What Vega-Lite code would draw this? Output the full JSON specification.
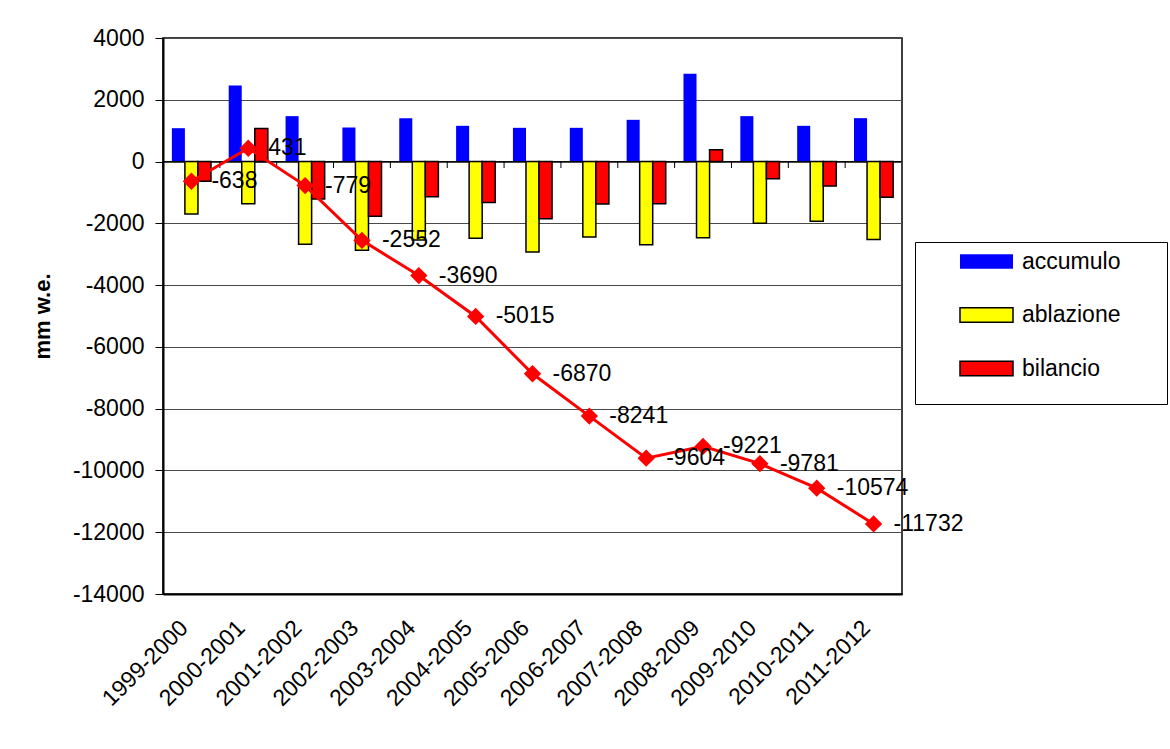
{
  "$schema": "https://vega.github.io/schema/vega-lite/v6.json",
  "autosize": {"type": "none"},
  "padding": {"left": 163, "top": 38, "right": 268, "bottom": 155},
  "width": 739,
  "height": 556,
  "background": "white",
  "config": {
    "font": "Liberation Sans",
    "view": {"stroke": "#000000", "strokeWidth": 1.5}
  },
  "datasets": {
    "bars": [
      {"season": "1999-2000", "series": "accumulo", "value": 1080},
      {"season": "1999-2000", "series": "ablazione", "value": -1700},
      {"season": "1999-2000", "series": "bilancio", "value": -638},
      {"season": "2000-2001", "series": "accumulo", "value": 2460},
      {"season": "2000-2001", "series": "ablazione", "value": -1370},
      {"season": "2000-2001", "series": "bilancio", "value": 1069},
      {"season": "2001-2002", "series": "accumulo", "value": 1470},
      {"season": "2001-2002", "series": "ablazione", "value": -2680},
      {"season": "2001-2002", "series": "bilancio", "value": -1210},
      {"season": "2002-2003", "series": "accumulo", "value": 1100},
      {"season": "2002-2003", "series": "ablazione", "value": -2870},
      {"season": "2002-2003", "series": "bilancio", "value": -1773},
      {"season": "2003-2004", "series": "accumulo", "value": 1405},
      {"season": "2003-2004", "series": "ablazione", "value": -2540},
      {"season": "2003-2004", "series": "bilancio", "value": -1138},
      {"season": "2004-2005", "series": "accumulo", "value": 1157},
      {"season": "2004-2005", "series": "ablazione", "value": -2484},
      {"season": "2004-2005", "series": "bilancio", "value": -1325},
      {"season": "2005-2006", "series": "accumulo", "value": 1092},
      {"season": "2005-2006", "series": "ablazione", "value": -2930},
      {"season": "2005-2006", "series": "bilancio", "value": -1855},
      {"season": "2006-2007", "series": "accumulo", "value": 1092},
      {"season": "2006-2007", "series": "ablazione", "value": -2440},
      {"season": "2006-2007", "series": "bilancio", "value": -1371},
      {"season": "2007-2008", "series": "accumulo", "value": 1351},
      {"season": "2007-2008", "series": "ablazione", "value": -2690},
      {"season": "2007-2008", "series": "bilancio", "value": -1363},
      {"season": "2008-2009", "series": "accumulo", "value": 2843},
      {"season": "2008-2009", "series": "ablazione", "value": -2470},
      {"season": "2008-2009", "series": "bilancio", "value": 383},
      {"season": "2009-2010", "series": "accumulo", "value": 1470},
      {"season": "2009-2010", "series": "ablazione", "value": -2000},
      {"season": "2009-2010", "series": "bilancio", "value": -560},
      {"season": "2010-2011", "series": "accumulo", "value": 1157},
      {"season": "2010-2011", "series": "ablazione", "value": -1935},
      {"season": "2010-2011", "series": "bilancio", "value": -793},
      {"season": "2011-2012", "series": "accumulo", "value": 1405},
      {"season": "2011-2012", "series": "ablazione", "value": -2520},
      {"season": "2011-2012", "series": "bilancio", "value": -1158}
    ],
    "cum": [
      {"season": "1999-2000", "cum": -638},
      {"season": "2000-2001", "cum": 431},
      {"season": "2001-2002", "cum": -779},
      {"season": "2002-2003", "cum": -2552},
      {"season": "2003-2004", "cum": -3690},
      {"season": "2004-2005", "cum": -5015},
      {"season": "2005-2006", "cum": -6870},
      {"season": "2006-2007", "cum": -8241},
      {"season": "2007-2008", "cum": -9604},
      {"season": "2008-2009", "cum": -9221},
      {"season": "2009-2010", "cum": -9781},
      {"season": "2010-2011", "cum": -10574},
      {"season": "2011-2012", "cum": -11732}
    ]
  },
  "layer": [
    {
      "data": {"name": "bars"},
      "mark": {"type": "bar", "strokeWidth": 1.5},
      "encoding": {
        "x": {
          "field": "season",
          "type": "nominal",
          "sort": null,
          "scale": {"paddingInner": 0, "paddingOuter": 0},
          "axis": {
            "title": null,
            "labelAngle": -45,
            "labelAlign": "right",
            "labelBaseline": "middle",
            "labelFontSize": 23,
            "labelColor": "#000000",
            "labelOffset": -7,
            "labelPadding": 30,
            "ticks": false,
            "tickSize": 0,
            "domainColor": "#000000",
            "domainWidth": 2,
            "grid": false
          }
        },
        "xOffset": {
          "field": "series",
          "type": "nominal",
          "sort": ["accumulo", "ablazione", "bilancio"],
          "scale": {"paddingInner": 0, "paddingOuter": 0.68}
        },
        "y": {
          "field": "value",
          "type": "quantitative",
          "scale": {"domain": [-14000, 4000], "nice": false, "zero": false},
          "axis": {
            "title": "mm w.e.",
            "titleFontSize": 22,
            "titleFontWeight": "bold",
            "titleColor": "#000000",
            "titlePadding": 18,
            "values": [-14000, -12000, -10000, -8000, -6000, -4000, -2000, 0, 2000, 4000],
            "labelExpr": "'' + datum.value",
            "labelFontSize": 23,
            "labelColor": "#000000",
            "labelPadding": 11,
            "tickSize": 8,
            "tickColor": "#000000",
            "domainColor": "#000000",
            "domainWidth": 2,
            "gridColor": "#4a4a4a",
            "gridWidth": 1
          }
        },
        "color": {
          "field": "series",
          "type": "nominal",
          "sort": ["accumulo", "ablazione", "bilancio"],
          "scale": {"domain": ["accumulo", "ablazione", "bilancio"], "range": ["#0000FF", "#FFFF00", "#FF0000"]},
          "legend": {
            "orient": "none",
            "legendX": 752,
            "legendY": 204,
            "direction": "vertical",
            "title": " ",
            "titleOrient": "bottom",
            "titleFontSize": 12,
            "titlePadding": 4,
            "fillColor": "#FFFFFF",
            "strokeColor": "#000000",
            "padding": 8,
            "symbolType": "M-2.65,-0.72L2.65,-0.72L2.65,0.72L-2.65,0.72Z",
            "symbolSize": 400,
            "symbolOffset": 52,
            "symbolStrokeWidth": 1.5,
            "labelOffset": 24,
            "rowPadding": 29.5,
            "labelFontSize": 23,
            "labelColor": "#000000",
            "labelExpr": "datum.label + '\u00a0\u00a0\u00a0\u00a0\u00a0\u00a0\u200b'"
          }
        },
        "stroke": {
          "field": "series",
          "type": "nominal",
          "sort": ["accumulo", "ablazione", "bilancio"],
          "scale": {"domain": ["accumulo", "ablazione", "bilancio"], "range": ["transparent", "#000000", "#000000"]},
          "legend": {
            "orient": "none",
            "legendX": 752,
            "legendY": 204,
            "direction": "vertical",
            "title": " ",
            "titleOrient": "bottom",
            "titleFontSize": 12,
            "titlePadding": 4,
            "fillColor": "#FFFFFF",
            "strokeColor": "#000000",
            "padding": 8,
            "symbolType": "M-2.65,-0.72L2.65,-0.72L2.65,0.72L-2.65,0.72Z",
            "symbolSize": 400,
            "symbolOffset": 52,
            "symbolStrokeWidth": 1.5,
            "labelOffset": 24,
            "rowPadding": 29.5,
            "labelFontSize": 23,
            "labelColor": "#000000",
            "labelExpr": "datum.label + '\u00a0\u00a0\u00a0\u00a0\u00a0\u00a0\u200b'"
          }
        }
      }
    },
    {
      "data": {"values": [{}]},
      "mark": {"type": "rule", "color": "#000000", "strokeWidth": 1},
      "encoding": {"y": {"datum": 0}}
    },
    {
      "data": {"name": "cum"},
      "mark": {"type": "rule", "color": "#000000", "strokeWidth": 1},
      "encoding": {
        "x": {"field": "season", "type": "nominal", "sort": null, "bandPosition": 0},
        "y": {"datum": 0},
        "y2": {"datum": -210}
      }
    },
    {
      "data": {"name": "cum"},
      "mark": {
        "type": "line",
        "color": "#FF0000",
        "strokeWidth": 3,
        "point": {"shape": "diamond", "size": 300, "color": "#FF0000", "filled": true, "opacity": 1}
      },
      "encoding": {
        "x": {"field": "season", "type": "nominal", "sort": null},
        "y": {"field": "cum", "type": "quantitative"}
      }
    },
    {
      "data": {"name": "cum"},
      "mark": {"type": "text", "align": "left", "baseline": "middle", "dx": 20, "fontSize": 23, "color": "#000000"},
      "encoding": {
        "x": {"field": "season", "type": "nominal", "sort": null},
        "y": {"field": "cum", "type": "quantitative"},
        "text": {"field": "cum", "type": "nominal"}
      }
    }
  ]
}
